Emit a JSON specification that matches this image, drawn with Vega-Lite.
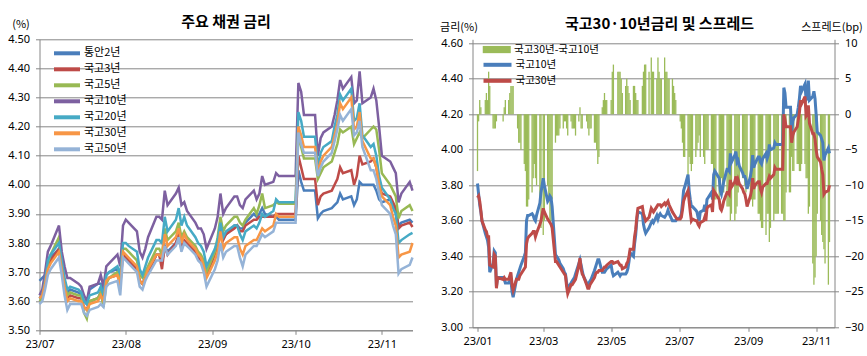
{
"$schema":"https://vega.github.io/schema/vega-lite/v6.json",
"autosize":{"type":"none"},
"padding":{"left":39.5,"top":39.3,"right":827.5,"bottom":316.7},
"background":"white",
"bounds":"flush",
"spacing":60,
"config":{"view":{"stroke":null},"font":"Noto Sans CJK KR",
"axis":{"labelFont":"Noto Sans","labelFontSize":11,"labelColor":"#000","gridColor":"#868686","domainColor":"#868686","tickColor":"#868686","tickSize":4,"titleFont":"Noto Sans CJK KR","titleFontWeight":"normal","titleFontSize":11,"titleColor":"#000"},
"legend":{"labelFont":"Noto Sans CJK KR","labelFontSize":11,"labelColor":"#000","padding":0},
"title":{"font":"Noto Sans CJK KR","fontSize":15,"fontWeight":"bold","color":"#000"}},
"datasets":{"D":[
{"d":"2023/01/02","e":3.81,"g":3.73,"s":-8},
{"d":"2023/01/03","e":3.75,"g":3.74,"s":-1},
{"d":"2023/01/04","e":3.69,"g":3.71,"s":2},
{"d":"2023/01/05","e":3.65,"g":3.66,"s":1},
{"d":"2023/01/06","e":3.60,"g":3.60,"s":0},
{"d":"2023/01/09","e":3.53,"g":3.55,"s":2},
{"d":"2023/01/10","e":3.51,"g":3.54,"s":3},
{"d":"2023/01/11","e":3.49,"g":3.51,"s":2},
{"d":"2023/01/12","e":3.45,"g":3.51,"s":6},
{"d":"2023/01/13","e":3.31,"g":3.35,"s":4},
{"d":"2023/01/16","e":3.36,"g":3.34,"s":-2},
{"d":"2023/01/17","e":3.43,"g":3.41,"s":-2},
{"d":"2023/01/18","e":3.42,"g":3.40,"s":-2},
{"d":"2023/01/19","e":3.23,"g":3.22,"s":-1},
{"d":"2023/01/20","e":3.28,"g":3.28,"s":0},
{"d":"2023/01/25","e":3.28,"g":3.27,"s":-1},
{"d":"2023/01/26","e":3.27,"g":3.28,"s":1},
{"d":"2023/01/27","e":3.25,"g":3.27,"s":2},
{"d":"2023/01/30","e":3.25,"g":3.27,"s":2},
{"d":"2023/01/31","e":3.26,"g":3.29,"s":3},
{"d":"2023/02/01","e":3.27,"g":3.31,"s":4},
{"d":"2023/02/02","e":3.20,"g":3.24,"s":4},
{"d":"2023/02/03","e":3.17,"g":3.21,"s":4},
{"d":"2023/02/06","e":3.27,"g":3.27,"s":0},
{"d":"2023/02/07","e":3.29,"g":3.27,"s":-2},
{"d":"2023/02/08","e":3.31,"g":3.27,"s":-4},
{"d":"2023/02/09","e":3.33,"g":3.29,"s":-4},
{"d":"2023/02/10","e":3.35,"g":3.30,"s":-5},
{"d":"2023/02/13","e":3.40,"g":3.33,"s":-7},
{"d":"2023/02/14","e":3.42,"g":3.34,"s":-8},
{"d":"2023/02/15","e":3.60,"g":3.47,"s":-13},
{"d":"2023/02/16","e":3.63,"g":3.50,"s":-13},
{"d":"2023/02/17","e":3.63,"g":3.51,"s":-12},
{"d":"2023/02/20","e":3.64,"g":3.53,"s":-11},
{"d":"2023/02/21","e":3.63,"g":3.54,"s":-9},
{"d":"2023/02/22","e":3.61,"g":3.54,"s":-7},
{"d":"2023/02/23","e":3.60,"g":3.51,"s":-9},
{"d":"2023/02/24","e":3.63,"g":3.53,"s":-10},
{"d":"2023/02/27","e":3.70,"g":3.58,"s":-12},
{"d":"2023/02/28","e":3.76,"g":3.60,"s":-16},
{"d":"2023/03/02","e":3.84,"g":3.67,"s":-17},
{"d":"2023/03/03","e":3.80,"g":3.65,"s":-15},
{"d":"2023/03/06","e":3.71,"g":3.61,"s":-10},
{"d":"2023/03/07","e":3.72,"g":3.60,"s":-12},
{"d":"2023/03/08","e":3.74,"g":3.59,"s":-15},
{"d":"2023/03/09","e":3.73,"g":3.58,"s":-15},
{"d":"2023/03/10","e":3.68,"g":3.56,"s":-12},
{"d":"2023/03/13","e":3.41,"g":3.37,"s":-4},
{"d":"2023/03/14","e":3.40,"g":3.37,"s":-3},
{"d":"2023/03/15","e":3.39,"g":3.36,"s":-3},
{"d":"2023/03/16","e":3.38,"g":3.35,"s":-3},
{"d":"2023/03/17","e":3.36,"g":3.34,"s":-2},
{"d":"2023/03/20","e":3.33,"g":3.31,"s":-2},
{"d":"2023/03/21","e":3.31,"g":3.30,"s":-1},
{"d":"2023/03/22","e":3.30,"g":3.29,"s":-1},
{"d":"2023/03/23","e":3.25,"g":3.23,"s":-2},
{"d":"2023/03/24","e":3.22,"g":3.19,"s":-3},
{"d":"2023/03/27","e":3.25,"g":3.24,"s":-1},
{"d":"2023/03/28","e":3.26,"g":3.24,"s":-2},
{"d":"2023/03/29","e":3.27,"g":3.25,"s":-2},
{"d":"2023/03/30","e":3.28,"g":3.26,"s":-2},
{"d":"2023/03/31","e":3.30,"g":3.27,"s":-3},
{"d":"2023/04/03","e":3.36,"g":3.35,"s":-1},
{"d":"2023/04/04","e":3.38,"g":3.39,"s":1},
{"d":"2023/04/05","e":3.35,"g":3.33,"s":-2},
{"d":"2023/04/06","e":3.32,"g":3.30,"s":-2},
{"d":"2023/04/07","e":3.29,"g":3.29,"s":0},
{"d":"2023/04/10","e":3.25,"g":3.24,"s":-1},
{"d":"2023/04/11","e":3.24,"g":3.22,"s":-2},
{"d":"2023/04/12","e":3.25,"g":3.22,"s":-3},
{"d":"2023/04/13","e":3.26,"g":3.24,"s":-2},
{"d":"2023/04/14","e":3.27,"g":3.25,"s":-2},
{"d":"2023/04/17","e":3.32,"g":3.28,"s":-4},
{"d":"2023/04/18","e":3.34,"g":3.30,"s":-4},
{"d":"2023/04/19","e":3.36,"g":3.31,"s":-5},
{"d":"2023/04/20","e":3.38,"g":3.31,"s":-7},
{"d":"2023/04/21","e":3.38,"g":3.32,"s":-6},
{"d":"2023/04/24","e":3.31,"g":3.32,"s":1},
{"d":"2023/04/25","e":3.31,"g":3.33,"s":2},
{"d":"2023/04/26","e":3.31,"g":3.34,"s":3},
{"d":"2023/04/27","e":3.32,"g":3.34,"s":2},
{"d":"2023/04/28","e":3.33,"g":3.35,"s":2},
{"d":"2023/05/02","e":3.35,"g":3.37,"s":2},
{"d":"2023/05/03","e":3.31,"g":3.37,"s":6},
{"d":"2023/05/04","e":3.29,"g":3.36,"s":7},
{"d":"2023/05/08","e":3.31,"g":3.37,"s":6},
{"d":"2023/05/09","e":3.30,"g":3.36,"s":6},
{"d":"2023/05/10","e":3.29,"g":3.35,"s":6},
{"d":"2023/05/11","e":3.30,"g":3.35,"s":5},
{"d":"2023/05/12","e":3.30,"g":3.33,"s":3},
{"d":"2023/05/15","e":3.30,"g":3.34,"s":4},
{"d":"2023/05/16","e":3.31,"g":3.36,"s":5},
{"d":"2023/05/17","e":3.33,"g":3.37,"s":4},
{"d":"2023/05/18","e":3.37,"g":3.40,"s":3},
{"d":"2023/05/19","e":3.42,"g":3.44,"s":2},
{"d":"2023/05/22","e":3.40,"g":3.44,"s":4},
{"d":"2023/05/23","e":3.47,"g":3.51,"s":4},
{"d":"2023/05/24","e":3.52,"g":3.55,"s":3},
{"d":"2023/05/25","e":3.60,"g":3.62,"s":2},
{"d":"2023/05/26","e":3.65,"g":3.67,"s":2},
{"d":"2023/05/30","e":3.64,"g":3.68,"s":4},
{"d":"2023/05/31","e":3.58,"g":3.64,"s":6},
{"d":"2023/06/01","e":3.55,"g":3.62,"s":7},
{"d":"2023/06/02","e":3.53,"g":3.60,"s":7},
{"d":"2023/06/05","e":3.56,"g":3.62,"s":6},
{"d":"2023/06/07","e":3.59,"g":3.67,"s":8},
{"d":"2023/06/08","e":3.60,"g":3.66,"s":6},
{"d":"2023/06/09","e":3.59,"g":3.65,"s":6},
{"d":"2023/06/12","e":3.63,"g":3.68,"s":5},
{"d":"2023/06/13","e":3.61,"g":3.69,"s":8},
{"d":"2023/06/14","e":3.63,"g":3.69,"s":6},
{"d":"2023/06/15","e":3.64,"g":3.69,"s":5},
{"d":"2023/06/16","e":3.63,"g":3.68,"s":5},
{"d":"2023/06/19","e":3.62,"g":3.70,"s":8},
{"d":"2023/06/20","e":3.63,"g":3.69,"s":6},
{"d":"2023/06/21","e":3.64,"g":3.70,"s":6},
{"d":"2023/06/22","e":3.66,"g":3.71,"s":5},
{"d":"2023/06/23","e":3.64,"g":3.69,"s":5},
{"d":"2023/06/26","e":3.60,"g":3.65,"s":5},
{"d":"2023/06/27","e":3.60,"g":3.64,"s":4},
{"d":"2023/06/28","e":3.60,"g":3.63,"s":3},
{"d":"2023/06/29","e":3.60,"g":3.62,"s":2},
{"d":"2023/06/30","e":3.61,"g":3.61,"s":0},
{"d":"2023/07/03","a":3.67,"b":3.61,"c":3.60,"e":3.62,"f":3.61,"g":3.61,"h":3.59,"s":-1},
{"d":"2023/07/04","a":3.68,"b":3.62,"c":3.61,"e":3.64,"f":3.62,"g":3.62,"h":3.60,"s":-2},
{"d":"2023/07/05","a":3.69,"b":3.66,"c":3.66,"e":3.70,"f":3.67,"g":3.66,"h":3.64,"s":-4},
{"d":"2023/07/06","a":3.73,"b":3.72,"c":3.73,"e":3.77,"f":3.74,"g":3.71,"h":3.69,"s":-6},
{"d":"2023/07/07","a":3.75,"b":3.74,"c":3.76,"e":3.79,"f":3.76,"g":3.73,"h":3.71,"s":-6},
{"d":"2023/07/10","a":3.78,"b":3.78,"c":3.82,"e":3.86,"f":3.80,"g":3.77,"h":3.75,"s":-9},
{"d":"2023/07/11","a":3.72,"b":3.72,"c":3.74,"e":3.77,"f":3.74,"g":3.71,"h":3.69,"s":-6},
{"d":"2023/07/12","a":3.67,"b":3.66,"c":3.67,"e":3.72,"f":3.68,"g":3.65,"h":3.62,"s":-7},
{"d":"2023/07/13","a":3.63,"b":3.61,"c":3.62,"e":3.68,"f":3.64,"g":3.60,"h":3.57,"s":-8},
{"d":"2023/07/14","a":3.64,"b":3.62,"c":3.63,"e":3.68,"f":3.65,"g":3.61,"h":3.59,"s":-7},
{"d":"2023/07/17","a":3.63,"b":3.61,"c":3.62,"e":3.66,"f":3.64,"g":3.60,"h":3.59,"s":-6},
{"d":"2023/07/18","a":3.62,"b":3.61,"c":3.62,"e":3.65,"f":3.63,"g":3.60,"h":3.59,"s":-5},
{"d":"2023/07/19","a":3.60,"b":3.58,"c":3.56,"e":3.62,"f":3.60,"g":3.58,"h":3.56,"s":-4},
{"d":"2023/07/20","a":3.59,"b":3.57,"c":3.54,"e":3.60,"f":3.59,"g":3.57,"h":3.55,"s":-3},
{"d":"2023/07/21","a":3.64,"b":3.60,"c":3.60,"e":3.65,"f":3.62,"g":3.59,"h":3.57,"s":-6},
{"d":"2023/07/24","a":3.66,"b":3.61,"c":3.61,"e":3.66,"f":3.63,"g":3.60,"h":3.58,"s":-6},
{"d":"2023/07/25","a":3.66,"b":3.63,"c":3.63,"e":3.69,"f":3.65,"g":3.62,"h":3.59,"s":-7},
{"d":"2023/07/26","a":3.63,"b":3.60,"c":3.58,"e":3.65,"f":3.62,"g":3.60,"h":3.58,"s":-5},
{"d":"2023/07/27","a":3.69,"b":3.67,"c":3.66,"e":3.72,"f":3.69,"g":3.67,"h":3.65,"s":-5},
{"d":"2023/07/28","a":3.70,"b":3.68,"c":3.68,"e":3.73,"f":3.70,"g":3.68,"h":3.66,"s":-5},
{"d":"2023/07/31","a":3.71,"b":3.69,"c":3.70,"e":3.76,"f":3.72,"g":3.69,"h":3.67,"s":-7},
{"d":"2023/08/01","a":3.68,"b":3.66,"c":3.67,"e":3.72,"f":3.69,"g":3.65,"h":3.62,"s":-7},
{"d":"2023/08/02","a":3.76,"b":3.76,"c":3.78,"e":3.86,"f":3.80,"g":3.77,"h":3.75,"s":-9},
{"d":"2023/08/03","a":3.75,"b":3.75,"c":3.78,"e":3.88,"f":3.80,"g":3.76,"h":3.74,"s":-12},
{"d":"2023/08/04","a":3.74,"b":3.74,"c":3.77,"e":3.87,"f":3.79,"g":3.75,"h":3.73,"s":-12},
{"d":"2023/08/07","a":3.71,"b":3.71,"c":3.74,"e":3.84,"f":3.77,"g":3.72,"h":3.70,"s":-12},
{"d":"2023/08/08","a":3.67,"b":3.67,"c":3.69,"e":3.77,"f":3.71,"g":3.67,"h":3.65,"s":-10},
{"d":"2023/08/09","a":3.66,"b":3.66,"c":3.68,"e":3.75,"f":3.69,"g":3.66,"h":3.64,"s":-9},
{"d":"2023/08/10","a":3.68,"b":3.68,"c":3.70,"e":3.78,"f":3.72,"g":3.68,"h":3.67,"s":-10},
{"d":"2023/08/11","a":3.70,"b":3.70,"c":3.72,"e":3.82,"f":3.75,"g":3.71,"h":3.69,"s":-11},
{"d":"2023/08/14","a":3.76,"b":3.76,"c":3.78,"e":3.89,"f":3.81,"g":3.76,"h":3.74,"s":-13},
{"d":"2023/08/15","a":3.76,"b":3.76,"c":3.78,"e":3.89,"f":3.81,"g":3.76,"h":3.74,"s":-13},
{"d":"2023/08/16","a":3.73,"b":3.71,"c":3.76,"e":3.88,"f":3.80,"g":3.75,"h":3.74,"s":-13},
{"d":"2023/08/17","a":3.79,"b":3.79,"c":3.85,"e":3.98,"f":3.89,"g":3.83,"h":3.79,"s":-15},
{"d":"2023/08/18","a":3.77,"b":3.76,"c":3.81,"e":3.93,"f":3.84,"g":3.79,"h":3.76,"s":-14},
{"d":"2023/08/21","a":3.80,"b":3.80,"c":3.84,"e":3.97,"f":3.88,"g":3.82,"h":3.79,"s":-15},
{"d":"2023/08/22","a":3.82,"b":3.83,"c":3.87,"e":3.99,"f":3.92,"g":3.85,"h":3.82,"s":-14},
{"d":"2023/08/23","a":3.78,"b":3.79,"c":3.82,"e":3.93,"f":3.86,"g":3.80,"h":3.77,"s":-13},
{"d":"2023/08/24","a":3.80,"b":3.81,"c":3.84,"e":3.94,"f":3.89,"g":3.83,"h":3.80,"s":-11},
{"d":"2023/08/25","a":3.79,"b":3.80,"c":3.82,"e":3.91,"f":3.86,"g":3.81,"h":3.79,"s":-10},
{"d":"2023/08/28","a":3.77,"b":3.77,"c":3.79,"e":3.87,"f":3.82,"g":3.78,"h":3.76,"s":-9},
{"d":"2023/08/29","a":3.76,"b":3.75,"c":3.77,"e":3.85,"f":3.80,"g":3.76,"h":3.74,"s":-9},
{"d":"2023/08/30","a":3.75,"b":3.74,"c":3.76,"e":3.85,"f":3.79,"g":3.75,"h":3.73,"s":-10},
{"d":"2023/08/31","a":3.73,"b":3.72,"c":3.74,"e":3.83,"f":3.77,"g":3.72,"h":3.70,"s":-11},
{"d":"2023/09/01","a":3.70,"b":3.69,"c":3.70,"e":3.78,"f":3.72,"g":3.68,"h":3.65,"s":-10},
{"d":"2023/09/04","a":3.77,"b":3.76,"c":3.77,"e":3.85,"f":3.78,"g":3.74,"h":3.71,"s":-11},
{"d":"2023/09/05","a":3.80,"b":3.80,"c":3.82,"e":3.89,"f":3.81,"g":3.77,"h":3.74,"s":-12},
{"d":"2023/09/06","a":3.86,"b":3.86,"c":3.89,"e":3.97,"f":3.87,"g":3.84,"h":3.80,"s":-13},
{"d":"2023/09/07","a":3.82,"b":3.81,"c":3.84,"e":3.90,"f":3.82,"g":3.78,"h":3.75,"s":-12},
{"d":"2023/09/08","a":3.83,"b":3.83,"c":3.86,"e":3.92,"f":3.84,"g":3.80,"h":3.77,"s":-12},
{"d":"2023/09/11","a":3.86,"b":3.85,"c":3.89,"e":3.96,"f":3.86,"g":3.82,"h":3.79,"s":-14},
{"d":"2023/09/12","a":3.86,"b":3.86,"c":3.89,"e":3.96,"f":3.86,"g":3.82,"h":3.79,"s":-14},
{"d":"2023/09/13","a":3.85,"b":3.84,"c":3.87,"e":3.93,"f":3.83,"g":3.78,"h":3.75,"s":-15},
{"d":"2023/09/14","a":3.85,"b":3.84,"c":3.86,"e":3.92,"f":3.81,"g":3.76,"h":3.72,"s":-16},
{"d":"2023/09/15","a":3.87,"b":3.86,"c":3.88,"e":3.95,"f":3.84,"g":3.79,"h":3.76,"s":-16},
{"d":"2023/09/18","a":3.90,"b":3.88,"c":3.92,"e":3.98,"f":3.86,"g":3.81,"h":3.79,"s":-17},
{"d":"2023/09/19","a":3.89,"b":3.88,"c":3.90,"e":3.95,"f":3.85,"g":3.81,"h":3.79,"s":-14},
{"d":"2023/09/20","a":3.90,"b":3.89,"c":3.93,"e":3.97,"f":3.87,"g":3.83,"h":3.81,"s":-14},
{"d":"2023/09/21","a":3.92,"b":3.89,"c":3.97,"e":4.03,"f":3.90,"g":3.85,"h":3.83,"s":-18},
{"d":"2023/09/22","a":3.90,"b":3.89,"c":3.92,"e":4.00,"f":3.89,"g":3.84,"h":3.82,"s":-16},
{"d":"2023/09/25","a":3.89,"b":3.89,"c":3.93,"e":4.01,"f":3.91,"g":3.86,"h":3.84,"s":-15},
{"d":"2023/09/26","a":3.89,"b":3.90,"c":3.94,"e":4.04,"f":3.95,"g":3.90,"h":3.87,"s":-14},
{"d":"2023/09/27","a":3.88,"b":3.90,"c":3.935,"e":4.03,"f":3.94,"g":3.89,"h":3.87,"s":-14},
{"d":"2023/09/28","a":3.88,"b":3.90,"c":3.935,"e":4.03,"f":3.94,"g":3.89,"h":3.87,"s":-14},
{"d":"2023/09/29","a":3.88,"b":3.90,"c":3.935,"e":4.03,"f":3.94,"g":3.89,"h":3.87,"s":-14},
{"d":"2023/10/02","a":3.88,"b":3.90,"c":3.935,"e":4.03,"f":3.94,"g":3.89,"h":3.87,"s":-14},
{"d":"2023/10/03","a":3.88,"b":3.90,"c":3.935,"e":4.03,"f":3.94,"g":3.89,"h":3.87,"s":-14},
{"d":"2023/10/04","a":4.05,"b":4.10,"c":4.17,"e":4.35,"f":4.25,"g":4.20,"h":4.18,"s":-15},
{"d":"2023/10/05","a":4.01,"b":4.06,"c":4.13,"e":4.32,"f":4.22,"g":4.17,"h":4.14,"s":-15},
{"d":"2023/10/06","a":3.98,"b":4.02,"c":4.09,"e":4.24,"f":4.165,"g":4.13,"h":4.11,"s":-11},
{"d":"2023/10/09","a":3.98,"b":4.02,"c":4.09,"e":4.24,"f":4.165,"g":4.13,"h":4.11,"s":-11},
{"d":"2023/10/10","a":3.98,"b":4.02,"c":4.09,"e":4.24,"f":4.165,"g":4.13,"h":4.11,"s":-11},
{"d":"2023/10/11","a":3.885,"b":3.93,"c":4.02,"e":4.10,"f":4.06,"g":4.04,"h":4.03,"s":-6},
{"d":"2023/10/12","a":3.90,"b":3.96,"c":4.04,"e":4.16,"f":4.11,"g":4.08,"h":4.06,"s":-8},
{"d":"2023/10/13","a":3.91,"b":3.97,"c":4.06,"e":4.18,"f":4.13,"g":4.10,"h":4.08,"s":-8},
{"d":"2023/10/16","a":3.92,"b":3.98,"c":4.08,"e":4.20,"f":4.15,"g":4.13,"h":4.11,"s":-7},
{"d":"2023/10/17","a":3.93,"b":4.00,"c":4.11,"e":4.24,"f":4.20,"g":4.17,"h":4.15,"s":-7},
{"d":"2023/10/18","a":3.94,"b":4.02,"c":4.14,"e":4.29,"f":4.24,"g":4.21,"h":4.19,"s":-8},
{"d":"2023/10/19","a":3.97,"b":4.06,"c":4.19,"e":4.36,"f":4.31,"g":4.28,"h":4.24,"s":-8},
{"d":"2023/10/20","a":3.95,"b":4.04,"c":4.18,"e":4.33,"f":4.29,"g":4.26,"h":4.22,"s":-7},
{"d":"2023/10/23","a":3.96,"b":4.05,"c":4.20,"e":4.37,"f":4.33,"g":4.30,"h":4.26,"s":-7},
{"d":"2023/10/24","a":3.93,"b":4.00,"c":4.14,"e":4.28,"f":4.22,"g":4.19,"h":4.17,"s":-9},
{"d":"2023/10/25","a":3.95,"b":4.03,"c":4.16,"e":4.29,"f":4.23,"g":4.20,"h":4.18,"s":-9},
{"d":"2023/10/26","a":4.01,"b":4.10,"c":4.18,"e":4.39,"f":4.28,"g":4.25,"h":4.22,"s":-14},
{"d":"2023/10/27","a":4.00,"b":4.07,"c":4.16,"e":4.28,"f":4.17,"g":4.15,"h":4.13,"s":-13},
{"d":"2023/10/30","a":4.00,"b":4.08,"c":4.19,"e":4.30,"f":4.13,"g":4.09,"h":4.05,"s":-21},
{"d":"2023/10/31","a":4.00,"b":4.09,"c":4.20,"e":4.33,"f":4.14,"g":4.09,"h":4.05,"s":-24},
{"d":"2023/11/01","a":3.98,"b":4.06,"c":4.19,"e":4.29,"f":4.10,"g":4.06,"h":4.02,"s":-23},
{"d":"2023/11/02","a":3.95,"b":4.00,"c":4.12,"e":4.20,"f":4.03,"g":4.00,"h":3.97,"s":-20},
{"d":"2023/11/03","a":3.94,"b":3.97,"c":4.04,"e":4.10,"f":3.99,"g":3.96,"h":3.93,"s":-14},
{"d":"2023/11/06","a":3.95,"b":3.96,"c":4.00,"e":4.08,"f":3.95,"g":3.93,"h":3.90,"s":-15},
{"d":"2023/11/07","a":3.93,"b":3.94,"c":3.98,"e":4.06,"f":3.92,"g":3.89,"h":3.86,"s":-17},
{"d":"2023/11/08","a":3.91,"b":3.92,"c":3.96,"e":4.04,"f":3.90,"g":3.86,"h":3.83,"s":-18},
{"d":"2023/11/09","a":3.86,"b":3.85,"c":3.885,"e":3.94,"f":3.80,"g":3.75,"h":3.695,"s":-19},
{"d":"2023/11/10","a":3.87,"b":3.86,"c":3.91,"e":3.97,"f":3.81,"g":3.76,"h":3.71,"s":-21},
{"d":"2023/11/13","a":3.88,"b":3.87,"c":3.93,"e":4.01,"f":3.83,"g":3.77,"h":3.725,"s":-24},
{"d":"2023/11/14","a":3.87,"b":3.855,"c":3.91,"e":3.98,"f":3.835,"g":3.80,"h":3.75,"s":-18}
]},
"hconcat":[
{"width":373,"height":291,
"title":{"text":"주요 채권 금리","anchor":"middle","offset":0,"dy":12},
"data":{"name":"D"},
"transform":[{"filter":"datum.a != null"},{"fold":["a","b","c","e","f","g","h"],"as":["k","v"]}],
"mark":{"type":"line","strokeWidth":2.5},
"encoding":{
"x":{"field":"d","type":"temporal","scale":{"domain":[{"year":2023,"month":7,"date":3},{"year":2023,"month":11,"date":14}]},
"axis":{"values":[{"year":2023,"month":7,"date":3},{"year":2023,"month":8,"date":3},{"year":2023,"month":9,"date":3},{"year":2023,"month":10,"date":3},{"year":2023,"month":11,"date":3}],"format":"%y/%m","grid":false,"title":null,"labelPadding":4,"labelFlush":false}},
"y":{"field":"v","type":"quantitative","scale":{"domain":[3.5,4.5],"zero":false},
"axis":{"values":[3.5,3.6,3.7,3.8,3.9,4.0,4.1,4.2,4.3,4.4,4.5],"format":".2f","grid":true,"labelPadding":6,"title":"(%)","titleAngle":0,"titleX":-19,"titleY":-15,"titleAlign":"center","titleBaseline":"middle"}},
"color":{"field":"k","type":"nominal","scale":{"domain":["a","b","c","e","f","g","h"],"range":["#4A7EBB","#BE4B48","#98B954","#7D60A0","#46AAC5","#F79646","#95B3D7"]},
"legend":{"orient":"none","legendX":20.5,"legendY":7,"title":null,"symbolType":"M-2.6,0H2.6","symbolSize":100,"symbolStrokeWidth":4,"rowPadding":0,"labelOffset":10,
"labelExpr":"datum.label=='a'?'통안2년':datum.label=='b'?'국고3년':datum.label=='c'?'국고5년':datum.label=='e'?'국고10년':datum.label=='f'?'국고20년':datum.label=='g'?'국고30년':'국고50년'"}}
}},
{"width":362,"height":288,
"title":{"text":"국고30·10년금리 및 스프레드","anchor":"middle","offset":0,"dy":11,"dx":6},
"data":{"name":"D"},
"layer":[
{"mark":{"type":"bar","size":1.3},
"encoding":{
"x":{"field":"d","type":"temporal","scale":{"domain":[{"year":2023,"month":1,"date":2},{"year":2023,"month":11,"date":14}]},
"axis":{"values":[{"year":2023,"month":1,"date":2},{"year":2023,"month":3,"date":2},{"year":2023,"month":5,"date":2},{"year":2023,"month":7,"date":2},{"year":2023,"month":9,"date":2},{"year":2023,"month":11,"date":2}],"format":"%y/%m","grid":false,"title":null,"labelPadding":4,"labelFlush":false}},
"y":{"field":"s","type":"quantitative","scale":{"domain":[-30,10.56]},
"axis":{"orient":"right","values":[-30,-25,-20,-15,-10,-5,0,5,10],"grid":false,"labelPadding":6,"title":"스프레드(bp)","titleAngle":0,"titleX":-3,"titleY":-12,"titleAlign":"center","titleBaseline":"middle"}},
"fill":{"datum":"국고30년-국고10년","scale":{"range":["#9BBB59"]},
"legend":{"orient":"none","legendX":452,"legendY":5,"title":null,"symbolType":"M-3.5,-0.9H3.5V0.9H-3.5Z","symbolSize":64,"symbolStrokeWidth":0,"labelOffset":12,"labelFontSize":10.5}}}},
{"transform":[{"fold":["e","g"],"as":["k","v"]}],
"mark":{"type":"line","strokeWidth":3},
"encoding":{
"x":{"field":"d","type":"temporal"},
"y":{"field":"v","type":"quantitative","scale":{"domain":[3.0,4.6225],"zero":false},
"axis":{"values":[3.0,3.2,3.4,3.6,3.8,4.0,4.2,4.4,4.6],"format":".2f","grid":true,"labelPadding":6,"title":"금리(%)","titleAngle":0,"titleX":-14,"titleY":-12,"titleAlign":"center","titleBaseline":"middle"}},
"stroke":{"field":"k","type":"nominal","scale":{"domain":["e","g"],"range":["#4A7EBB","#BE4B48"]},
"legend":{"orient":"none","legendX":452,"legendY":19.5,"title":null,"symbolType":"M-3.5,0H3.5","symbolSize":64,"symbolStrokeWidth":4,"rowPadding":0,"labelOffset":12,"labelFontSize":10.5,
"labelExpr":"datum.label=='e'?'국고10년':'국고30년'"}}}}
],
"resolve":{"scale":{"y":"independent"}}
}
]
}
